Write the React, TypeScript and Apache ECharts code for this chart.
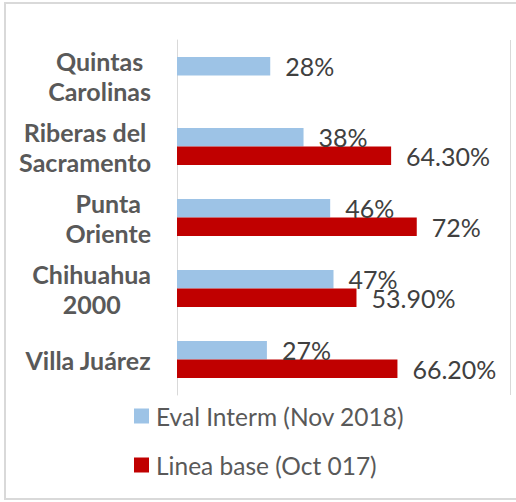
import React, { useEffect, useRef } from "react";
import * as echarts from "echarts";

const categories = [
  "Quintas\nCarolinas",
  "Riberas del\nSacramento",
  "Punta\nOriente",
  "Chihuahua\n2000",
  "Villa Juárez",
];
const evalInterm = [28, 38, 46, 47, 27];
const lineaBase: (number | null)[] = [null, 64.3, 72, 53.9, 66.2];
const seriesNames = ["Eval Interm (Nov 2018)", "Linea base (Oct 017)"];

const fmt = (v: number) => (Number.isInteger(v) ? `${v}%` : `${v.toFixed(2)}%`);

export default function App() {
  const ref = useRef<HTMLDivElement>(null);
  useEffect(() => {
    if (!ref.current) return;
    const chart = echarts.init(ref.current, undefined, { renderer: "svg" });
    const font = "Lato";
    const valueLabel = {
      show: true,
      position: "right",
      distance: 15,
      color: "#404040",
      fontSize: 25,
      fontFamily: font,
      formatter: (p: any) => fmt(p.value),
    };
    chart.setOption({
      animation: false,
      textStyle: { fontFamily: font },
      graphic: [
        {
          type: "rect",
          shape: { x: 5, y: 3, width: 540, height: 496 },
          style: { fill: "none", stroke: "#d9d9d9", lineWidth: 2 },
          silent: true,
        },
      ],
      grid: { left: 177, right: 6, top: 40, bottom: 107, containLabel: false },
      xAxis: {
        type: "value",
        min: 0,
        max: 100,
        interval: 100,
        axisLabel: { show: false },
        axisLine: { show: false },
        axisTick: { show: false },
        splitLine: { show: true, lineStyle: { color: "#d9d9d9", width: 1 } },
      },
      yAxis: {
        type: "category",
        inverse: true,
        data: categories,
        axisLine: { show: true, lineStyle: { color: "#d9d9d9", width: 1 } },
        axisTick: { show: false },
        axisLabel: {
          margin: 26,
          color: "#595959",
          fontWeight: "bold",
          fontSize: 25,
          fontFamily: font,
          lineHeight: 30,
          align: "right",
          formatter: (v: string) =>
            v
              .split("\n")
              .map((l) => `{c|${l}}`)
              .join("\n"),
          rich: {
            c: {
              align: "center",
              color: "#595959",
              fontWeight: "bold",
              fontSize: 25,
              fontFamily: font,
              lineHeight: 30,
            },
          },
        },
      },
      legend: {
        orient: "vertical",
        left: 129,
        top: 397,
        itemWidth: 15,
        itemHeight: 15,
        itemGap: 21,
        icon: "rect",
        textStyle: {
          color: "#595959",
          fontSize: 24.5,
          fontFamily: font,
          lineHeight: 28,
          padding: [0, 0, 0, 2],
        },
        data: seriesNames,
      },
      series: [
        {
          name: seriesNames[0],
          type: "bar",
          data: evalInterm,
          barWidth: 18.5,
          barGap: "0%",
          itemStyle: { color: "#9DC3E6" },
          label: valueLabel,
        },
        {
          name: seriesNames[1],
          type: "bar",
          data: lineaBase,
          barWidth: 18.5,
          barGap: "0%",
          itemStyle: { color: "#C00000" },
          label: valueLabel,
        },
      ],
    });
    return () => chart.dispose();
  }, []);
  return (
    <div
      ref={ref}
      style={{ position: "absolute", left: 0, top: 0, width: 516, height: 502, background: "#fff" }}
    />
  );
}
